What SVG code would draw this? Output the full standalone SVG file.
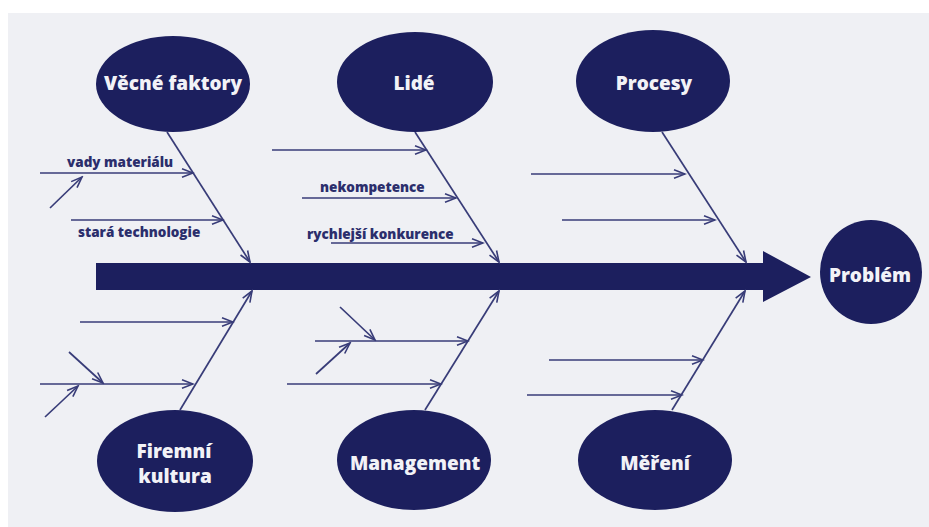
<svg xmlns="http://www.w3.org/2000/svg" width="929" height="527" viewBox="0 0 929 527">
  <style>
    .node { fill: #1c1f5e; }
    .ntext { fill: #f2f2f7; font-family: "Open Sans", "Liberation Sans", sans-serif; font-weight: 800; font-size: 19px; text-anchor: middle; }
    .label { fill: #2b2e6c; font-family: "Open Sans", "Liberation Sans", sans-serif; font-weight: 800; font-size: 13.5px; }
    .bone { stroke: #383c78; stroke-width: 1.7; fill: none; marker-end: url(#chev); }
  </style>
  <defs>
    <marker id="chev" markerUnits="userSpaceOnUse" markerWidth="14" markerHeight="12" viewBox="0 0 14 12" refX="12" refY="6" orient="auto">
      <path d="M1,1.8 L12,6 L1,10.2" fill="none" stroke="#383c78" stroke-width="1.6"/>
    </marker>
  </defs>

  <!-- page -->
  <rect x="0" y="0" width="929" height="527" fill="#ffffff"/>
  <rect x="8" y="13" width="921" height="514" fill="#eff0f4"/>

  <!-- spine -->
  <g id="spine">
    <path class="node" d="M96,263 L763,263 L763,251 L811,277 L763,302 L763,290 L96,290 Z"/>
  </g>

  <!-- connectors -->
  <g id="connectors">
    <!-- main bones -->
    <line class="bone" x1="167" y1="132" x2="250" y2="262"/>
    <line class="bone" x1="415" y1="132" x2="499" y2="262"/>
    <line class="bone" x1="662" y1="132" x2="746" y2="262"/>
    <line class="bone" x1="180" y1="410" x2="252" y2="291"/>
    <line class="bone" x1="425" y1="410" x2="499" y2="291"/>
    <line class="bone" x1="672" y1="410" x2="745" y2="291"/>

    <!-- Věcné faktory -->
    <line class="bone" x1="40" y1="173" x2="193" y2="173"/>
    <line class="bone" x1="50" y1="208" x2="82" y2="177"/>
    <line class="bone" x1="71" y1="220" x2="223" y2="220"/>

    <!-- Lidé -->
    <line class="bone" x1="272" y1="150" x2="426" y2="150"/>
    <line class="bone" x1="302" y1="198" x2="456" y2="198"/>
    <line class="bone" x1="331" y1="243" x2="483" y2="243"/>

    <!-- Procesy -->
    <line class="bone" x1="531" y1="174" x2="685" y2="174"/>
    <line class="bone" x1="562" y1="220" x2="715" y2="220"/>

    <!-- Firemní kultura -->
    <line class="bone" x1="80" y1="322" x2="233" y2="322"/>
    <line class="bone" x1="40" y1="384" x2="193" y2="384"/>
    <line class="bone" x1="69" y1="352" x2="103" y2="383"/>
    <line class="bone" x1="45" y1="417" x2="78" y2="386"/>

    <!-- Management -->
    <line class="bone" x1="315" y1="341" x2="468" y2="341"/>
    <line class="bone" x1="287" y1="384" x2="441" y2="384"/>
    <line class="bone" x1="340" y1="307" x2="375" y2="340"/>
    <line class="bone" x1="316" y1="374" x2="350" y2="343"/>

    <!-- Měření -->
    <line class="bone" x1="549" y1="360" x2="703" y2="360"/>
    <line class="bone" x1="527" y1="395" x2="682" y2="395"/>
  </g>

  <!-- cause labels -->
  <g id="labels">
    <text class="label" x="67" y="167">vady materiálu</text>
    <text class="label" x="78" y="237">stará technologie</text>
    <text class="label" x="320" y="192">nekompetence</text>
    <text class="label" x="307" y="239">rychlejší konkurence</text>
  </g>

  <!-- category nodes -->
  <g id="vecne-faktory">
    <ellipse class="node" cx="173" cy="84" rx="77" ry="48"/>
    <text class="ntext" x="173" y="90">Věcné faktory</text>
  </g>
  <g id="lide">
    <ellipse class="node" cx="415" cy="82" rx="78" ry="50"/>
    <text class="ntext" x="414" y="90">Lidé</text>
  </g>
  <g id="procesy">
    <ellipse class="node" cx="653" cy="81" rx="77" ry="51"/>
    <text class="ntext" x="654" y="90">Procesy</text>
  </g>
  <g id="firemni-kultura">
    <ellipse class="node" cx="175" cy="461" rx="78" ry="51"/>
    <text class="ntext" x="174" y="458">Firemní</text>
    <text class="ntext" x="175" y="483">kultura</text>
  </g>
  <g id="management">
    <ellipse class="node" cx="414" cy="460" rx="77" ry="50"/>
    <text class="ntext" x="415" y="470">Management</text>
  </g>
  <g id="mereni">
    <ellipse class="node" cx="655" cy="460" rx="77" ry="50"/>
    <text class="ntext" x="655" y="470">Měření</text>
  </g>
  <g id="problem">
    <ellipse class="node" cx="871" cy="272" rx="51" ry="52"/>
    <text class="ntext" x="870" y="282">Problém</text>
  </g>
</svg>
